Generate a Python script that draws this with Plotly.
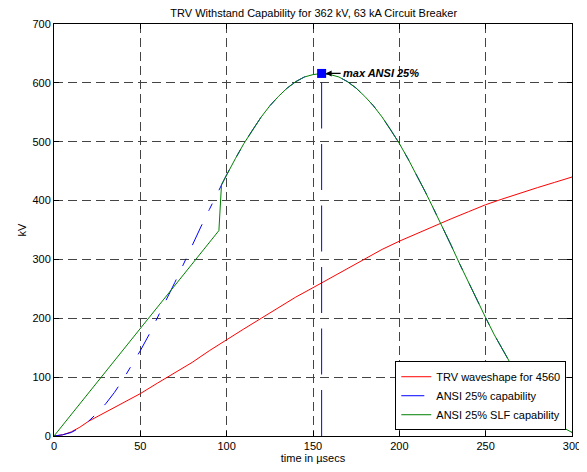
import plotly.graph_objects as go

# ---- data ----
trv_t = [0, 5, 10, 15, 20, 25, 30, 40, 50, 60, 70, 80, 90, 100, 110, 120, 130, 140, 150,
         160, 170, 180, 190, 200, 210, 220, 230, 240, 250, 260, 270, 280, 290, 300]
trv_kv = [0, 2, 7, 15, 25, 33, 41, 56, 72, 90, 108, 125, 145, 164, 182, 200, 218, 236, 252,
          268, 284, 300, 317, 331, 344, 357, 369, 381, 393, 403, 413, 422, 431, 440]

ansi_t = [0, 5, 10, 15, 20, 25, 30, 35, 40, 45, 50, 55, 60, 65, 70, 75, 80, 85, 90, 95,
          100, 105, 110, 115, 120, 125, 130, 135, 140, 145, 150, 155, 160, 165, 170, 175,
          180, 185, 190, 195, 200, 205, 210, 215, 220, 225, 230, 235, 240, 245, 250, 255,
          260, 265, 270, 275, 280, 285, 290, 295, 300]
ansi_kv = [0, 2, 6, 14, 25, 39, 55, 74, 96, 120, 145, 172, 201, 231, 261, 292, 324, 355, 385, 415,
           444, 471, 497, 520, 542, 561, 577, 591, 602, 610, 614, 616, 614, 610, 602, 591,
           577, 561, 542, 520, 497, 471, 444, 415, 385, 355, 324, 292, 261, 231, 201, 172,
           145, 120, 96, 74, 55, 39, 25, 14, 6]

slf_t = [0, 95.5, 97, 100, 105, 110, 115, 120, 125, 130, 135, 140, 145, 150, 155, 160, 165,
         170, 175, 180, 185, 190, 195, 200, 205, 210, 215, 220, 225, 230, 235, 240, 245, 250,
         255, 260, 265, 270, 275, 280, 285, 290, 295, 300]
slf_kv = [0, 349, 427, 444, 471, 497, 520, 542, 561, 577, 591, 602, 610, 614, 616, 614, 610,
          602, 591, 577, 561, 542, 520, 497, 471, 444, 415, 385, 355, 324, 292, 261, 231, 201,
          172, 145, 120, 96, 74, 55, 39, 25, 14, 6]

peak_t = [155]
peak_kv = [616]

x_ticks = [0, 50, 100, 150, 200, 250, 300]
y_ticks = [0, 100, 200, 300, 400, 500, 600, 700]

FONT = "Liberation Sans, Arial, sans-serif"

fig = go.Figure()
fig.add_trace(go.Scatter(x=trv_t, y=trv_kv, mode="lines", name="TRV waveshape for 4560",
                         line=dict(color="#ff0000", width=1)))
fig.add_trace(go.Scatter(x=ansi_t, y=ansi_kv, mode="lines", name="ANSI 25% capability",
                         line=dict(color="#0000ff", width=1, dash="23px,15px,8px,15px")))
fig.add_trace(go.Scatter(x=[peak_t[0], peak_t[0]], y=[0, peak_kv[0]], mode="lines",
                         showlegend=False, hoverinfo="skip",
                         line=dict(color="#0000ff", width=1, dash="46px,15.5px")))
fig.add_trace(go.Scatter(x=slf_t, y=slf_kv, mode="lines", name="ANSI 25% SLF capability",
                         line=dict(color="#008000", width=1)))
fig.add_trace(go.Scatter(x=peak_t, y=peak_kv, mode="markers", showlegend=False,
                         marker=dict(symbol="square", size=9, color="#0000ff",
                                     line=dict(width=0))))

fig.add_annotation(x=peak_t[0], y=peak_kv[0], text="<b><i>max ANSI 25%</i></b>",
                   showarrow=True, ax=19, ay=0, xanchor="left", yanchor="middle",
                   arrowhead=2, arrowsize=1, arrowwidth=1.2, arrowcolor="black",
                   standoff=4, font=dict(family=FONT, size=11, color="black"))

axis_common = dict(
    showline=True, linecolor="black", linewidth=1, mirror="ticks",
    ticks="inside", ticklen=5, tickcolor="black", tickwidth=1,
    showgrid=True, gridcolor="#444444", gridwidth=1, griddash="9px,5px",
    zeroline=False, tickfont=dict(family=FONT, size=11, color="black"),
    automargin=False,
)

fig.update_xaxes(range=[0, 300], tickvals=x_ticks, ticktext=[str(v) for v in x_ticks],
                 title=dict(text="time in µsecs", font=dict(family=FONT, size=11, color="black"),
                            standoff=2),
                 **axis_common)
fig.update_yaxes(range=[0, 700], tickvals=y_ticks, ticktext=[str(v) for v in y_ticks],
                 title=dict(text="kV", font=dict(family=FONT, size=11, color="black"),
                            standoff=3),
                 **axis_common)

# the page body adds an 8px offset at left/top, so the figure is 8px smaller
fig.update_layout(
    width=579, height=464,
    margin=dict(l=46, r=14.5, t=16, b=36),
    paper_bgcolor="white", plot_bgcolor="white",
    font=dict(family=FONT, size=11, color="black"),
    title=dict(text="TRV Withstand Capability for 362 kV, 63 kA Circuit Breaker",
               x=0.528, xanchor="center", y=0.988, yanchor="middle",
               font=dict(family=FONT, size=11, color="black")),
    showlegend=True,
    legend=dict(x=0.989, y=0.014, xanchor="right", yanchor="bottom",
                bgcolor="white", bordercolor="black", borderwidth=1,
                font=dict(family=FONT, size=11, color="black"),
                tracegroupgap=0, itemwidth=30),
)

fig.write_html("out.html")
